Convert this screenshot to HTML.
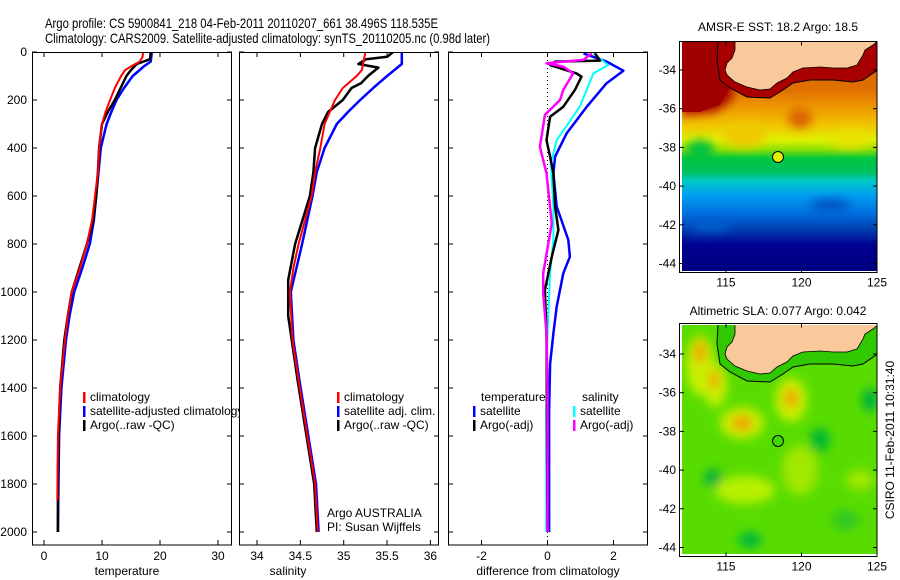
<!DOCTYPE html>
<html><head><meta charset="utf-8"><style>
body{margin:0;background:#fff;}
svg{display:block;font-family:"Liberation Sans",sans-serif;}
</style></head><body>
<svg id="fig" width="900" height="580" viewBox="0 0 900 580">
<defs>
<clipPath id="c1"><rect x="32" y="52" width="200" height="493"/></clipPath>
<clipPath id="c2"><rect x="239" y="52" width="200" height="493"/></clipPath>
<clipPath id="c3"><rect x="448" y="52" width="200" height="493"/></clipPath>
<clipPath id="m1"><rect x="682" y="42" width="195" height="229"/></clipPath>
<clipPath id="m2"><rect x="682" y="325" width="195" height="229"/></clipPath>
<linearGradient id="sst" x1="0" y1="42" x2="0" y2="270" gradientUnits="userSpaceOnUse">
<stop offset="0" stop-color="#d06000"/><stop offset="0.21" stop-color="#e07000"/>
<stop offset="0.3" stop-color="#f0a000"/><stop offset="0.37" stop-color="#f0c800"/>
<stop offset="0.43" stop-color="#e0f000"/><stop offset="0.47" stop-color="#90e000"/>
<stop offset="0.51" stop-color="#00c840"/><stop offset="0.57" stop-color="#00c060"/>
<stop offset="0.61" stop-color="#00c8c8"/><stop offset="0.67" stop-color="#00a0f0"/>
<stop offset="0.75" stop-color="#0070e0"/><stop offset="0.82" stop-color="#0040b0"/>
<stop offset="0.89" stop-color="#000090"/><stop offset="1" stop-color="#000080"/>
</linearGradient>
<filter id="bl" x="-50%" y="-50%" width="200%" height="200%"><feGaussianBlur stdDeviation="5"/></filter>
<path id="land" d="M735,40 L735,50 L732,58 L727,63 L725,70 L727,75 L735,82 L747,87 L760,90 L770,89 L777,83 L787,78 L793,72 L803,68 L820,67 L833,68 L847,68 L857,65 L860,60 L863,55 L865,50 L873,45 L879,40Z"/>
<path id="contour" d="M718,40 L717,60 L720,80 L730,88 L747,97 L770,98 L783,90 L793,83 L810,80 L833,80 L853,82 L863,80 L879,69"/>
</defs>

<text x="45" y="28" font-size="14" textLength="393" lengthAdjust="spacingAndGlyphs">Argo profile: CS 5900841_218 04-Feb-2011 20110207_661 38.496S 118.535E</text>
<text x="45" y="43" font-size="14" textLength="445" lengthAdjust="spacingAndGlyphs">Climatology: CARS2009. Satellite-adjusted climatology: synTS_20110205.nc (0.98d later)</text>

<g id="p1"></g>
<g id="p2"></g>
<g id="p3"></g>

<!-- Map 1: SST -->
<g>
<text x="778" y="31" font-size="12" text-anchor="middle">AMSR-E SST: 18.2 Argo: 18.5</text>
<g clip-path="url(#m1)">
<rect x="682" y="42" width="195" height="229" fill="url(#sst)"/>
<g filter="url(#bl)">
<path d="M682,42 L735,42 L732,100 L715,112 L682,115Z" fill="#a80000"/>
<ellipse cx="800" cy="118" rx="12" ry="10" fill="#d86000"/>
<ellipse cx="700" cy="150" rx="14" ry="10" fill="#00c040"/>
<ellipse cx="745" cy="135" rx="22" ry="12" fill="#f0c800"/>
<ellipse cx="850" cy="140" rx="20" ry="8" fill="#e8e000"/>
<ellipse cx="710" cy="225" rx="20" ry="6" fill="#0060d0"/>
<ellipse cx="830" cy="205" rx="20" ry="6" fill="#0050c0"/>
</g>
<path d="M718,40 L717,60 L720,80 L730,88 L747,97 L770,98 L783,90 L793,83 L810,80 L833,80 L853,82 L863,80 L879,69 L879,40Z" fill="#a80000"/>
<path d="M682,40 L718,40 L717,60 L720,80 L730,88 L720,105 L700,112 L682,112Z" fill="#a00000"/>
<use href="#contour" fill="none" stroke="#000" stroke-width="1"/>
<use href="#land" fill="#f9c89b" stroke="#000" stroke-width="0.8"/>
</g>
<circle cx="778" cy="157" r="5.5" fill="#e0f000" stroke="#000" stroke-width="1"/>
<rect x="679.5" y="41.5" width="197.5" height="231" fill="none" stroke="#000"/>
<g id="mt1"></g>
</g>

<!-- Map 2: SLA -->
<g>
<text x="778" y="315" font-size="12" text-anchor="middle">Altimetric SLA: 0.077 Argo: 0.042</text>
<g clip-path="url(#m2)">
<rect x="682" y="325" width="195" height="229" fill="#58dc00"/>
<g filter="url(#bl)">
<ellipse cx="700" cy="365" rx="14" ry="30" fill="#c8f000"/>
<ellipse cx="715" cy="385" rx="12" ry="22" fill="#c8f000"/>
<ellipse cx="742" cy="423" rx="22" ry="16" fill="#c8f000"/>
<ellipse cx="791" cy="400" rx="16" ry="22" fill="#c8f000"/>
<ellipse cx="745" cy="490" rx="30" ry="14" fill="#b8f000"/>
<ellipse cx="800" cy="470" rx="18" ry="25" fill="#a0e800"/>
<ellipse cx="700" cy="352" rx="6" ry="12" fill="#f0a000"/>
<ellipse cx="714" cy="380" rx="5" ry="10" fill="#f0a000"/>
<ellipse cx="742" cy="423" rx="11" ry="8" fill="#f0a000"/>
<ellipse cx="791" cy="398" rx="7" ry="10" fill="#f0a000"/>
<ellipse cx="713" cy="478" rx="9" ry="9" fill="#00b040"/>
<ellipse cx="820" cy="440" rx="10" ry="12" fill="#00b830"/>
<ellipse cx="870" cy="400" rx="8" ry="12" fill="#00b040"/>
<ellipse cx="750" cy="540" rx="12" ry="8" fill="#00b840"/>
<ellipse cx="845" cy="520" rx="14" ry="10" fill="#30c820"/>
<ellipse cx="860" cy="480" rx="14" ry="10" fill="#a0e800"/>
</g>
<g transform="translate(0,284)">
<path d="M718,40 L717,60 L720,80 L730,88 L747,97 L770,98 L783,90 L793,83 L810,80 L833,80 L853,82 L863,80 L879,69 L879,40Z" fill="#30c800"/>
<use href="#contour" fill="none" stroke="#000" stroke-width="1"/>
<use href="#land" fill="#f9c89b" stroke="#000" stroke-width="0.8"/>
</g>
</g>
<circle cx="778" cy="441" r="5.5" fill="#40d800" stroke="#000" stroke-width="1"/>
<rect x="679.5" y="323.5" width="197.5" height="233" fill="none" stroke="#000"/>
<g id="mt2"></g>
</g>
<text transform="translate(894,440) rotate(-90)" font-size="12" text-anchor="middle">CSIRO 11-Feb-2011 10:31:40</text>
</svg>
<script>
// ---------- data ----------
const depthTicks = [0,200,400,600,800,1000,1200,1400,1600,1800,2000];
const tempTicks = [0,10,20,30];
const salTicks = [34,34.5,35,35.5,36];
const salTickLabels = ["34","34.5","35","35.5","36"];
const diffTicks = [-2,0,2];

const tClimDepth = [0,20,40,60,75,100,150,200,250,300,400,500,600,700,800,900,1000,1100,1200,1400,1600,1870];
const tClimVal = [17.1,17.0,16.5,15,14,13.3,12.2,11.4,10.6,10,9.5,9.3,8.8,8.3,7.4,6.2,4.8,4.1,3.6,2.8,2.4,2.3];
const tSatDepth = [0,40,60,75,100,150,200,250,300,400,500,600,700,800,900,1000,1100,1200,1400,1600,1800,2000];
const tSatVal = [18.6,18.4,17.2,16.5,15.3,13.8,12.5,11.6,10.8,9.8,9.4,9.0,8.6,7.9,6.6,5.2,4.4,3.8,3.0,2.6,2.5,2.4];
const tArgoDepth = [0,30,50,75,100,150,200,250,300,400,500,600,700,800,900,1000,1100,1200,1400,1600,1800,2000];
const tArgoVal = [18.4,18.3,16,15,14.2,13.2,12.2,11,10,9.5,9.3,9.0,8.5,7.4,6.1,4.8,4.1,3.5,2.8,2.5,2.4,2.4];

const sClimDepth = [0,75,100,150,200,300,400,500,600,800,900,1000,1200,1370,1800,2000];
const sClimVal = [35.25,35.21,35.15,34.99,34.9,34.78,34.73,34.67,34.63,34.48,34.42,34.38,34.41,34.48,34.67,34.70];
const sSatDepth = [0,50,100,150,200,250,300,400,500,600,800,1000,1200,1370,1800,2000];
const sSatVal = [35.67,35.67,35.5,35.34,35.19,35.05,34.92,34.78,34.69,34.64,34.52,34.39,34.42,34.49,34.68,34.71];
const sArgoDepth = [0,20,30,50,65,100,130,150,200,250,300,400,500,600,800,950,1000,1100,1200,1370,1800,2000];
const sArgoVal = [35.57,35.5,35.26,35.17,35.4,35.28,35.2,35.09,34.99,34.82,34.75,34.67,34.65,34.61,34.44,34.36,34.36,34.36,34.4,34.47,34.66,34.69];

const dTSatDepth = [6,40,78,130,228,339,436,505,644,783,853,922,1061,1172,1300,1500,2000];
const dTSatVal = [1.09,1.79,2.3,1.79,1.19,0.58,0.23,0.18,0.28,0.63,0.68,0.48,0.28,0.18,0.08,0.05,0.05];
const dSSatDepth = [6,54,89,228,367,464,644,783,922,1172,1500,2000];
const dSSatVal = [1.39,1.84,1.39,0.98,0.28,0.1,0.18,0.18,0.08,0,-0.04,-0.04];
const dTArgoDepth = [6,36,40,54,89,103,158,228,270,367,436,505,644,742,853,992,1172,1400,2000];
const dTArgoVal = [1.44,1.59,0.23,0.08,0.88,1.03,0.83,0.48,0.08,-0.03,0.08,0.18,0.23,0.33,0.13,-0.08,-0.03,-0.02,0.0];
const dSArgoDepth = [6,33,47,61,89,158,200,262,395,505,714,922,1006,1172,1400,2000];
const dSArgoVal = [1.34,1.09,-0.03,0.48,0.78,0.48,0.38,-0.08,-0.23,-0.03,0.13,-0.13,-0.13,-0.03,0.0,0.0];

const mapLonTicks = [115,120,125];
const mapLatTicks = [-34,-36,-38,-40,-42,-44];

// ---------- helpers ----------
const NS = "http://www.w3.org/2000/svg";
function mk(tag, attrs, parent){const e=document.createElementNS(NS,tag);for(const k in attrs)e.setAttribute(k,attrs[k]);parent.appendChild(e);return e;}
const yDepth = d => 52 + d*0.24;
const xT = v => 44 + v*5.8;
const xS = v => 257 + (v-34)*86.7;
const xD = v => 547.5 + v*33;

function panel(g, x0, clip, ticks, labels, xf, title, titleX, showDepthLabels){
  const x1 = x0+200;
  mk('rect',{x:x0+0.5,y:52.5,width:199,height:493,fill:'#fff',stroke:'none'},g);
  depthTicks.forEach((d,i)=>{
    const y=yDepth(d);
    const tl=mk('line',{x1:x0,x2:x0+5,y1:y,y2:y,stroke:'#000'},g);
    
    
    mk('line',{x1:x1-5,x2:x1,y1:y,y2:y,stroke:'#000'},g);
    if(showDepthLabels){
      const t=mk('text',{x:27,y:y+4,'font-size':12,'text-anchor':'end'},g);
      t.textContent=d;
      
      
    }
  });
  ticks.forEach((v,i)=>{
    const x=xf(v);
    mk('line',{x1:x,x2:x,y1:545,y2:540,stroke:'#000'},g);
    mk('line',{x1:x,x2:x,y1:52,y2:57,stroke:'#000'},g);
    const t=mk('text',{x:x,y:560,'font-size':12,'text-anchor':'middle'},g);
    t.textContent=labels[i];
    
    
  });
  const tt=mk('text',{x:titleX,y:575,'font-size':12,'text-anchor':'middle'},g);
  tt.textContent=title;
  
  
  return mk('g',{'clip-path':clip},g);
}
function series(g, depths, vals, xf, color, w, name){
  const p=mk('polyline',{points:depths.map((d,i)=>xf(vals[i]).toFixed(1)+','+yDepth(d).toFixed(1)).join(' '),fill:'none',stroke:color,'stroke-width':w,'stroke-linejoin':'round'},g);
  
  
}
function legend(g, x, y, color, text){
  if(color) mk('rect',{x:x,y:y-9,width:2.5,height:11,fill:color},g);
  const t=mk('text',{x:x+7,y:y,'font-size':12},g);
  t.textContent=text;
  
  
}
function frame(g,x0){
  mk('rect',{x:x0+0.5,y:52.5,width:199,height:492.5,fill:'none',stroke:'#000'},g);
}

// ---------- panel 1 ----------
const p1=document.getElementById('p1');
const c1=panel(p1,32,'url(#c1)',tempTicks,tempTicks.map(String),xT,'temperature',127,true);
series(c1,tSatDepth,tSatVal,xT,'#0000ff',2.5,'temp-satellite-line');
series(c1,tArgoDepth,tArgoVal,xT,'#000',2.5,'temp-argo-line');
series(c1,tClimDepth,tClimVal,xT,'#ff0000',2,'temp-climatology-line');
legend(p1,83,401,'#ff0000','climatology');
legend(p1,83,415,'#0000ff','satellite-adjusted climatology');
legend(p1,83,429,'#000','Argo(..raw -QC)');

// ---------- panel 2 ----------
const p2=document.getElementById('p2');
const c2=panel(p2,239,'url(#c2)',salTicks,salTickLabels,xS,'salinity',288,false);
series(c2,sSatDepth,sSatVal,xS,'#0000ff',2.5,'sal-satellite-line');
series(c2,sArgoDepth,sArgoVal,xS,'#000',2.5,'sal-argo-line');
series(c2,sClimDepth,sClimVal,xS,'#ff0000',2,'sal-climatology-line');
legend(p2,337,401,'#ff0000','climatology');
legend(p2,337,415,'#0000ff','satellite adj. clim.');
legend(p2,337,429,'#000','Argo(..raw -QC)');
const a1=mk('text',{x:327,y:517,'font-size':12},p2);a1.textContent='Argo AUSTRALIA';


const a2=mk('text',{x:327,y:531,'font-size':12},p2);a2.textContent='PI: Susan Wijffels';



// ---------- panel 3 ----------
const p3=document.getElementById('p3');
const c3=panel(p3,448,'url(#c3)',diffTicks,diffTicks.map(String),xD,'difference from climatology',548,false);
mk('line',{x1:xD(0),x2:xD(0),y1:52,y2:545,stroke:'#000','stroke-dasharray':'1,3'},c3);
series(c3,dTSatDepth,dTSatVal,xD,'#0000ff',2.5,'diff-temp-satellite-line');
series(c3,dSSatDepth,dSSatVal,xD,'#00ffff',2,'diff-sal-satellite-line');
series(c3,dTArgoDepth,dTArgoVal,xD,'#000',2.5,'diff-temp-argo-line');
series(c3,dSArgoDepth,dSArgoVal,xD,'#ff00ff',2.5,'diff-sal-argo-line');
const lt=mk('text',{x:481,y:401,'font-size':12},p3);lt.textContent='temperature';


const ls=mk('text',{x:582,y:401,'font-size':12},p3);ls.textContent='salinity';


legend(p3,473,415,'#0000ff','satellite');
legend(p3,473,429,'#000','Argo(-adj)');
legend(p3,573,415,'#00ffff','satellite');
legend(p3,573,429,'#ff00ff','Argo(-adj)');

frame(p1,32);frame(p2,239);frame(p3,448);

// ---------- map ticks ----------
function mapTicks(id, top, bot, latY0){
  const g=document.getElementById(id);
  mapLonTicks.forEach(lon=>{
    const x=726+(lon-115)*15.1;
    mk('line',{x1:x,x2:x,y1:top,y2:top+4,stroke:'#000'},g);
    mk('line',{x1:x,x2:x,y1:bot,y2:bot-4,stroke:'#000'},g);
    const t=mk('text',{x:x,y:bot+14,'font-size':12,'text-anchor':'middle'},g);t.textContent=lon;
    
    
  });
  mapLatTicks.forEach(lat=>{
    const y=latY0+(-34-lat)*19.35;
    mk('line',{x1:680,x2:684,y1:y,y2:y,stroke:'#000'},g);
    mk('line',{x1:873,x2:877,y1:y,y2:y,stroke:'#000'},g);
    const t=mk('text',{x:676,y:y+4,'font-size':12,'text-anchor':'end'},g);t.textContent=lat;
    
    
  });
}
mapTicks('mt1',41.5,272.5,70);
mapTicks('mt2',323.5,556.5,354);
</script>
</body></html>
